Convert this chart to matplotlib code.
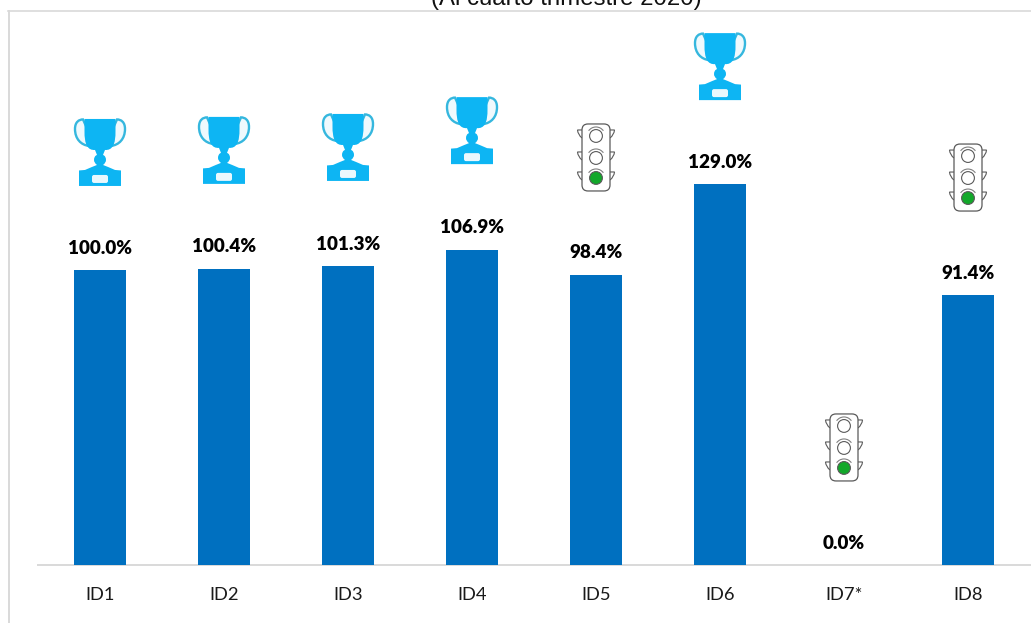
import matplotlib
matplotlib.use("Agg")
import matplotlib.pyplot as plt
from matplotlib.lines import Line2D
from matplotlib.patches import Circle, FancyBboxPatch, PathPatch, Arc
from matplotlib.path import Path
from matplotlib.transforms import Affine2D, ScaledTranslation

categories = ["ID1", "ID2", "ID3", "ID4", "ID5", "ID6", "ID7*", "ID8"]
values = [100.0, 100.4, 101.3, 106.9, 98.4, 129.0, 0.0, 91.4]
labels = ["100.0%", "100.4%", "101.3%", "106.9%", "98.4%", "129.0%", "0.0%", "91.4%"]
icons = ["trophy", "trophy", "trophy", "trophy", "light", "trophy", "light", "light"]
# height (in chart units) of the top edge of each icon
icon_tops = [151.2, 151.9, 152.9, 158.6, 149.5, 180.3, 51.2, 142.7]
title = "(Al cuarto trimestre 2020)"

BAR = "#0070C0"
GRID = "#D9D9D9"
CUP = "#0DB5F3"
W, H = 1031, 623

fig = plt.figure(figsize=(W / 100, H / 100), dpi=100, facecolor="white")
ax = fig.add_axes([38 / W, (H - 565) / H, 992 / W, 554 / H])
ax.set_xlim(-0.5, 7.5)
ax.set_ylim(0, 554 / 2.95)
ax.patch.set_alpha(0)
for s in ["top", "left", "right"]:
    ax.spines[s].set_visible(False)
ax.spines["bottom"].set_color(GRID)
ax.spines["bottom"].set_linewidth(1.4)
ax.spines["bottom"].set_zorder(1)
ax.set_yticks([])
ax.set_xticks(range(len(categories)))
ax.set_xticklabels(categories, family="Lato", fontsize=13.2, color="#1a1a1a")
ax.tick_params(axis="x", length=0, pad=16)

ax.bar(range(len(values)), values, width=52 / 124, color=BAR, zorder=2)
for i, (v, lab) in enumerate(zip(values, labels)):
    ax.annotate(lab, (i, v), xytext=(0, 15.8), textcoords="offset points",
                ha="center", va="center", family="Lato", weight="heavy",
                fontsize=13.6, color="black")


def draw_trophy(x, top):
    # local coordinates: pixels from the top-centre of the icon, y downward
    tr = Affine2D().scale(1, -1) + ScaledTranslation(x, top, ax.transData)
    kw = dict(transform=tr, clip_on=False, zorder=3)
    for sgn in (-1, 1):
        handle = Path([(sgn * 17, 0.5), (sgn * 21, 0.5), (sgn * 25, 3), (sgn * 25, 10),
                       (sgn * 25, 20), (sgn * 19, 26), (sgn * 11, 27),
                       (sgn * 11, 14), (sgn * 17, 0.5)],
                      [Path.MOVETO, Path.CURVE4, Path.CURVE4, Path.CURVE4, Path.CURVE4,
                       Path.CURVE4, Path.CURVE4, Path.LINETO, Path.CLOSEPOLY])
        ax.add_patch(PathPatch(handle, fc="#EFF9FD", ec="#35B7DE", lw=1.7, **kw))
    cup = Path([(-15.5, 0), (15.5, 0), (15.5, 12), (16, 32), (5, 31), (3, 36),
                (3, 36), (6, 37), (6, 41), (6, 44), (3, 46), (3, 46),
                (8, 48), (15, 51), (21, 51.5), (21, 67), (-21, 67), (-21, 51.5),
                (-15, 51), (-8, 48), (-3, 46), (-3, 46), (-6, 44), (-6, 41),
                (-6, 37), (-3, 36), (-3, 36), (-5, 31), (-16, 32), (-15.5, 12),
                (-15.5, 0)],
               [Path.MOVETO, Path.LINETO, Path.LINETO, Path.CURVE3, Path.CURVE3, Path.LINETO,
                Path.LINETO, Path.CURVE3, Path.CURVE3, Path.CURVE3, Path.CURVE3, Path.LINETO,
                Path.LINETO, Path.LINETO, Path.LINETO, Path.LINETO, Path.LINETO, Path.LINETO,
                Path.LINETO, Path.LINETO, Path.LINETO, Path.LINETO, Path.CURVE3, Path.CURVE3,
                Path.CURVE3, Path.CURVE3, Path.LINETO, Path.LINETO, Path.CURVE3, Path.CURVE3,
                Path.CLOSEPOLY])
    ax.add_patch(PathPatch(cup, fc=CUP, ec="none", **kw))
    ax.add_patch(FancyBboxPatch((-7, 57), 14, 6, boxstyle="round,pad=1,rounding_size=2",
                                fc="#EAF8FD", ec="none", **kw))


def draw_light(x, top):
    tr = Affine2D().scale(1, -1) + ScaledTranslation(x, top, ax.transData)
    edge = "#5A5A5A"
    kw = dict(transform=tr, clip_on=False, zorder=3)
    for ly in (6, 28, 48):
        for sgn in (-1, 1):
            ear = Path([(sgn * 14, ly), (sgn * 18.5, ly), (sgn * 18, ly + 5), (sgn * 14, ly + 8)],
                       [Path.MOVETO, Path.LINETO, Path.CURVE3, Path.CURVE3])
            ax.add_patch(PathPatch(ear, fc="white", ec=edge, lw=0.8, **kw))
    ax.add_patch(FancyBboxPatch((-10, 4), 20, 59, boxstyle="round,pad=4,rounding_size=6",
                                fc="white", ec=edge, lw=0.9, **kw))
    for ly, fc in ((12, "white"), (34, "white"), (54, "#12A82A")):
        ax.add_patch(Circle((0, ly), 6.4, fc=fc, ec=edge, lw=0.8, **kw))
        ax.add_patch(Arc((0, ly), 18, 18, theta1=215, theta2=325, ec="#808080", lw=0.8, **kw))


for i, (kind, top) in enumerate(zip(icons, icon_tops)):
    (draw_trophy if kind == "trophy" else draw_light)(i, top)

fig.add_artist(Line2D([8.5 / W, 8.5 / W], [0, (H - 11) / H], color=GRID, lw=1.4))
fig.add_artist(Line2D([8 / W, 1], [(H - 10.5) / H] * 2, color=GRID, lw=1.2))
fig.text(566 / W, (H - 5.5) / H, title, ha="center", va="baseline",
         family="Liberation Sans", fontsize=17.3, color="#111111")

fig.savefig("out.png", dpi=100, facecolor="white")
